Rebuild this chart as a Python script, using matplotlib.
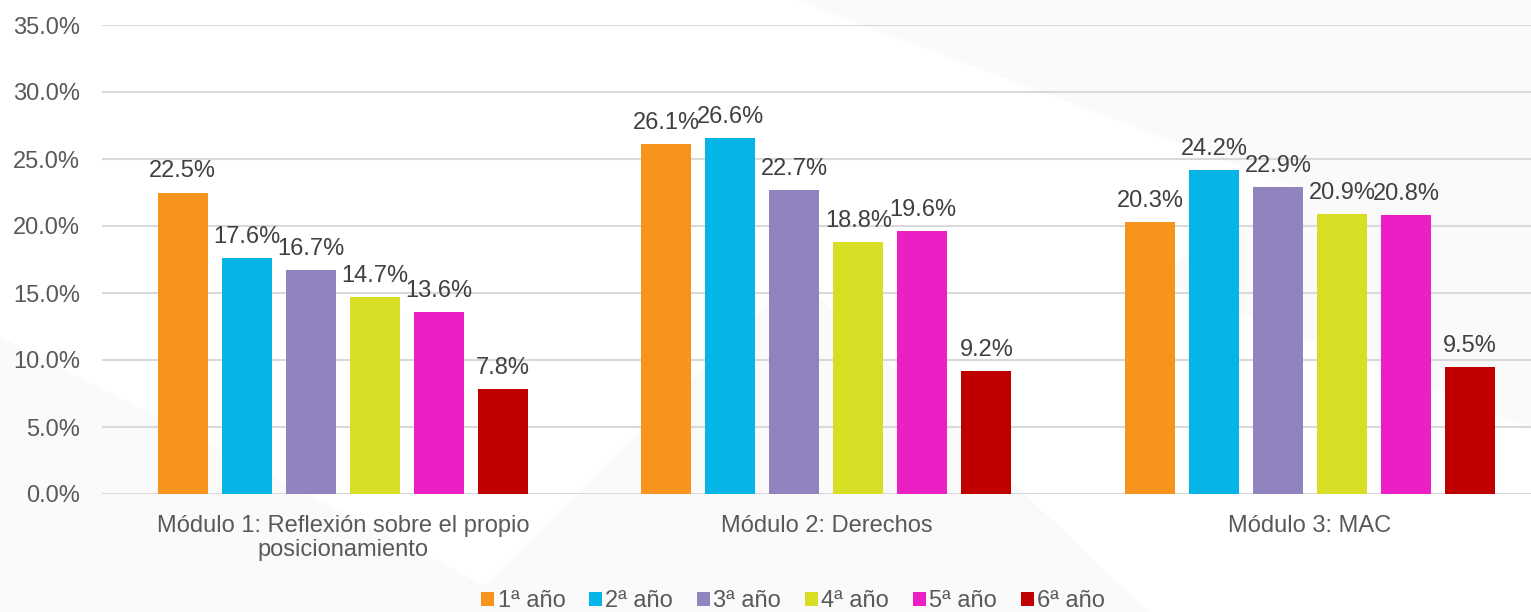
import matplotlib
matplotlib.use("Agg")
import matplotlib.pyplot as plt
import numpy as np
from matplotlib.patches import Polygon

plt.rcParams['font.family'] = ['Liberation Sans', 'DejaVu Sans']

categories = ["Módulo 1: Reflexión sobre el propio\nposicionamiento", "Módulo 2: Derechos", "Módulo 3: MAC"]
series_names = ["1ª año", "2ª año", "3ª año", "4ª año", "5ª año", "6ª año"]
values = {
    "1ª año": [22.5, 26.1, 20.3],
    "2ª año": [17.6, 26.6, 24.2],
    "3ª año": [16.7, 22.7, 22.9],
    "4ª año": [14.7, 18.8, 20.9],
    "5ª año": [13.6, 19.6, 20.8],
    "6ª año": [7.8, 9.2, 9.5],
}
colors = ["#F7941D", "#05B5E7", "#9183BE", "#D6DF23", "#EB1FC4", "#C00000"]
yticks = [0, 5, 10, 15, 20, 25, 30, 35]

fig = plt.figure(figsize=(15.31, 6.12), dpi=100)
fig.patch.set_facecolor("white")

# faint background watermark shapes
bg = fig.add_axes([0, 0, 1, 1], zorder=-10)
bg.set_xlim(0, 1); bg.set_ylim(0, 1); bg.axis("off")
for pts in [
    [(0.52, 1.0), (1.0, 1.0), (1.0, 0.55)],
    [(0.0, 0.0), (0.35, 0.0), (0.0, 0.45)],
    [(0.30, 0.0), (0.75, 0.0), (0.52, 0.55)],
    [(0.75, 0.55), (1.0, 0.3), (1.0, 0.85)],
]:
    bg.add_patch(Polygon(pts, closed=True, facecolor="#fafafa", edgecolor="none"))

ax = fig.add_axes([102/1531, 1-494/612, 1-102/1531, (494-25)/612])
ax.patch.set_alpha(0)

x = np.arange(len(categories))
pitch = 0.1324
width = 0.1034
n = len(series_names)
for i, (name, col) in enumerate(zip(series_names, colors)):
    offs = (i - (n - 1) / 2) * pitch
    vals = values[name]
    bars = ax.bar(x + offs, vals, width, color=col, label=name, zorder=3)
    for b, v in zip(bars, vals):
        ax.text(b.get_x() + b.get_width() / 2, v + 0.75, f"{v:.1f}%",
                ha="center", va="bottom", fontsize=17, color="#404040", zorder=4)

ax.set_ylim(0, 35)
ax.set_xlim(-0.498, 2.457)
ax.set_yticks(yticks)
ax.set_yticklabels([f"{t:.1f}%" for t in yticks], fontsize=17, color="#595959")
ax.set_xticks(x)
ax.set_xticklabels(categories, fontsize=17, color="#595959", linespacing=1.15)
ax.tick_params(axis="both", length=0)
ax.tick_params(axis="y", pad=16)
ax.tick_params(axis="x", pad=15)
ax.grid(axis="y", color="#d9d9d9", linewidth=1.5, zorder=0)
for s in ax.spines.values():
    s.set_visible(False)

handles, labels = ax.get_legend_handles_labels()
leg = fig.legend(handles, labels, loc="center", bbox_to_anchor=(793/1531, 1-601/612),
                 ncol=6, frameon=False, fontsize=17, handlelength=0.55, handleheight=0.55,
                 handletextpad=0.15, columnspacing=1.0, borderaxespad=0, borderpad=0)
for t in leg.get_texts():
    t.set_color("#595959")

fig.savefig("out.png", dpi=100)
